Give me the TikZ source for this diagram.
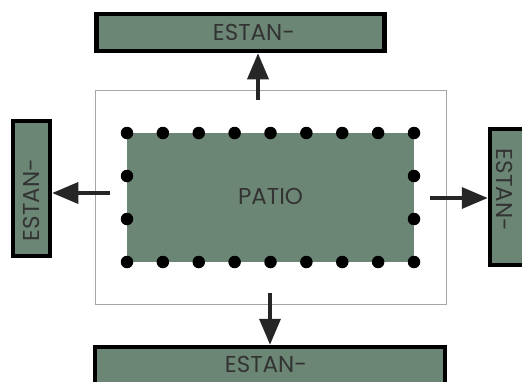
\documentclass[tikz,border=0pt]{standalone}
\usepackage{fontspec}
\setmainfont{Poppins}
\usetikzlibrary{arrows.meta}
\definecolor{stgreen}{HTML}{6C8675}
\definecolor{txtgray}{HTML}{333333}
\tikzset{
  stand/.style={draw=black, line width=4.5pt, fill=stgreen, inner sep=0pt},
  lbl/.style={text=txtgray, font=\fontsize{23}{23}\selectfont},
  bigarrow/.style={line width=3.5pt, draw=black!85, -{Triangle[width=21pt,length=26pt]}},
  dot/.style={circle, fill=black, inner sep=0pt, minimum size=12.5pt},
}
\begin{document}
\begin{tikzpicture}[x=1pt,y=-1pt]
\useasboundingbox (0,0) rectangle (522,381);
\clip (0,0) rectangle (522,381);
% outer gray area
\node[draw=black!35, line width=1pt, minimum width=351pt, minimum height=214pt, inner sep=0pt] (area) at (270.5,197) {};
% patio
\node[fill=stgreen, minimum width=287pt, minimum height=129pt, inner sep=0pt] (patio) at (270.5,197.5) {};
\node[lbl] (patiolbl) at (270.5,196) {PATIO};
% dots
\foreach \i in {0,...,8} {
  \node[dot] (t\i) at (127+35.875*\i,133) {};
  \node[dot] (b\i) at (127+35.875*\i,262) {};
}
\foreach \j/\y in {1/176,2/219} {
  \node[dot] (l\j) at (127,\y) {};
  \node[dot] (r\j) at (414,\y) {};
}
% stands
\node[stand, minimum width=288pt, minimum height=37pt] (top) at (240.5,32.5) {};
\node[lbl] (toplbl) at (254,32) {ESTAN-};
\node[stand, minimum width=37pt, minimum height=135pt] (left) at (31.5,188.5) {};
\node[lbl, rotate=90] (leftlbl) at (31.5,200) {ESTAN-};
\node[stand, minimum width=37pt, minimum height=136pt] (right) at (508.5,197) {};
\node[lbl, rotate=-90] (rightlbl) at (505,190) {ESTAN-};
\node[stand, minimum width=350pt, minimum height=37pt] (bottom) at (270,365.5) {};
\node[lbl] (bottomlbl) at (266,364.5) {ESTAN-};
% arrows
\coordinate (ta) at (258,100);
\coordinate (la) at (110,193);
\coordinate (ra) at (430,198);
\coordinate (ba) at (270,293);
\draw[bigarrow] (ta) -- (top.south -| ta);
\draw[bigarrow] (la) -- (left.east |- la);
\draw[bigarrow] (ra) -- (right.west |- ra);
\draw[bigarrow] (ba) -- (bottom.north -| ba);
\end{tikzpicture}
\end{document}
